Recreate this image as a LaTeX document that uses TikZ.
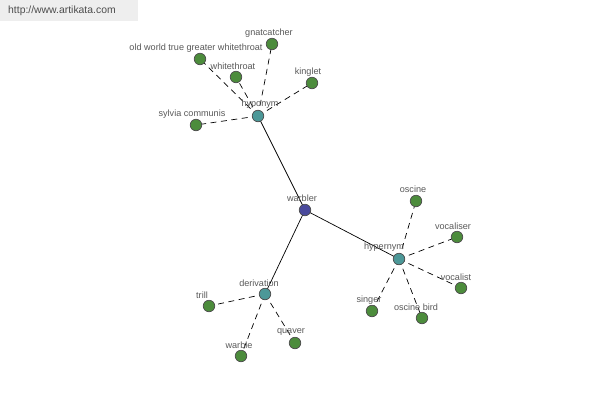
\documentclass[tikz,border=0pt]{standalone}
\usepackage{fontspec}
\setmainfont{Liberation Sans}
\begin{document}
\begin{tikzpicture}[x=1pt,y=-1pt,
  leaf/.style={circle,draw=black!70,fill=leafgreen,minimum size=11.5pt,inner sep=0pt,line width=0.7pt},
  hub/.style={circle,draw=black!70,fill=hubteal,minimum size=11.5pt,inner sep=0pt,line width=0.7pt},
  root/.style={circle,draw=black!70,fill=rootblue,minimum size=11.5pt,inner sep=0pt,line width=0.7pt},
  lbl/.style={font=\fontsize{9.1}{10}\selectfont,text=black!65,inner sep=0pt},
  dsh/.style={dash pattern=on 6pt off 4.5pt,line width=0.7pt},
  sol/.style={line width=0.7pt}]
\definecolor{leafgreen}{HTML}{4C8C3C}
\definecolor{hubteal}{HTML}{4C9898}
\definecolor{rootblue}{HTML}{4A4A9C}
\definecolor{hdrgray}{HTML}{EEEEEE}
\useasboundingbox (0,0) rectangle (600,400);
\fill[white] (0,0) rectangle (600,400);
\fill[hdrgray] (0,0) rectangle (138,21);
\node[font=\fontsize{10.4}{11}\selectfont,text=black!70,anchor=west,inner sep=0pt] (hdr) at (8,11) {http://www.artikata.com};
% edges first (drawn under nodes)
\coordinate (cwarbler) at (305,210);
\coordinate (chypo) at (258,116);
\coordinate (chyper) at (399,259);
\coordinate (cderiv) at (265,294);
\coordinate (cgnat) at (272,44);
\coordinate (cowtgw) at (200,59);
\coordinate (cwhite) at (236,77);
\coordinate (cking) at (312,83);
\coordinate (csylv) at (196,125);
\coordinate (cosc) at (416,201);
\coordinate (cvocr) at (457,237);
\coordinate (cvocl) at (461,288);
\coordinate (coscb) at (422,318);
\coordinate (csing) at (372,311);
\coordinate (ctrill) at (209,306);
\coordinate (cwarb) at (241,356);
\coordinate (cquav) at (295,343);
\draw[sol] (cwarbler) -- (chypo);
\draw[sol] (cwarbler) -- (chyper);
\draw[sol] (cwarbler) -- (cderiv);
\foreach \t in {gnat,owtgw,white,king,sylv} \draw[dsh] (chypo) -- (c\t);
\foreach \t in {osc,vocr,vocl,oscb,sing} \draw[dsh] (chyper) -- (c\t);
\foreach \t in {trill,warb,quav} \draw[dsh] (cderiv) -- (c\t);
% nodes
\node[root] (warbler) at (cwarbler) {};
\node[hub] (hypo) at (chypo) {};
\node[hub] (hyper) at (chyper) {};
\node[hub] (deriv) at (cderiv) {};
\foreach \t in {gnat,owtgw,white,king,sylv,osc,vocr,vocl,oscb,sing,trill,warb,quav}
  \node[leaf] (\t) at (c\t) {};
% labels
\node[lbl] (lwarbler) at (302,198) {warbler};
\node[lbl] (lhypo) at (260,104) {hyponym};
\node[lbl] (lhyper) at (384,247) {hypernym};
\node[lbl] (lderiv) at (259,283) {derivation};
\node[lbl] (lgnat) at (269,33) {gnatcatcher};
\node[lbl] (lowtgw) at (196,48) {old world true greater whitethroat};
\node[lbl] (lwhite) at (233,66) {whitethroat};
\node[lbl] (lking) at (308,72) {kinglet};
\node[lbl] (lsylv) at (192,114) {sylvia communis};
\node[lbl] (losc) at (413,189) {oscine};
\node[lbl] (lvocr) at (453,226) {vocaliser};
\node[lbl] (lvocl) at (456,277) {vocalist};
\node[lbl] (loscb) at (416,307) {oscine bird};
\node[lbl] (lsing) at (369,300) {singer};
\node[lbl] (ltrill) at (202,295) {trill};
\node[lbl] (lwarb) at (239,345) {warble};
\node[lbl] (lquav) at (291,332) {quaver};
\end{tikzpicture}
\end{document}
